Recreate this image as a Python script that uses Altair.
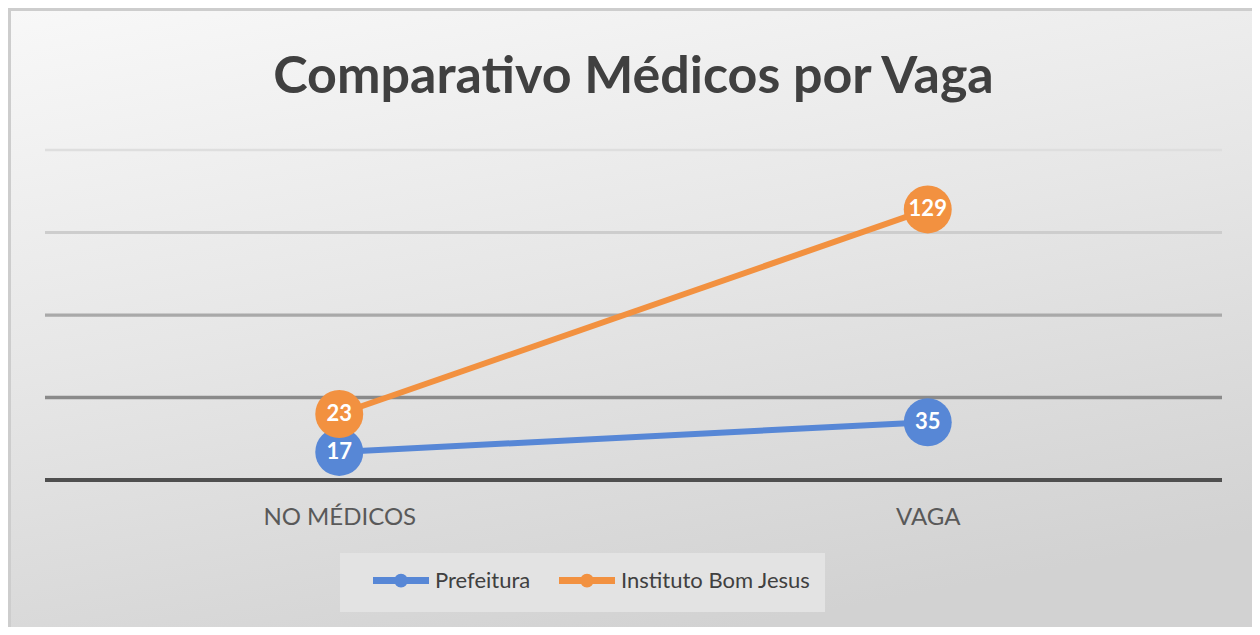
import altair as alt
import pandas as pd

# ---- data ----
categories = ["NO MÉDICOS", "VAGA"]
series = ["Prefeitura", "Instituto Bom Jesus"]
prefeitura = [17, 35]
instituto = [23, 129]
grid_levels = [0, 50, 100, 150, 200]

rows = []
for i, c in enumerate(categories):
    rows.append({"cat": c, "serie": series[0], "valor": prefeitura[i], "ordem": 0})
    rows.append({"cat": c, "serie": series[1], "valor": instituto[i], "ordem": 1})
df = pd.DataFrame(rows)
grid_df = pd.DataFrame({"level": grid_levels})
one_df = pd.DataFrame({"k": [0]})

W, H = 1177, 330
PAD = {"left": 37, "top": 142, "right": 30, "bottom": 147}
colors = ["#5787d6", "#f29140"]
y_scale = alt.Scale(domain=[0, 200], nice=False, zero=True)

x_enc = alt.X(
    "cat:N",
    sort=categories,
    scale=alt.Scale(type="point", padding=0.5),
    axis=alt.Axis(
        title=None, domain=False, ticks=False, grid=False, labelAngle=0, zindex=1,
        labelFont="Lato", labelFontSize=24, labelColor="#595959", labelPadding=25,
    ),
)

bg = alt.Chart(one_df).mark_rect(
    fill=alt.LinearGradient(
        gradient="linear",
        stops=[alt.GradientStop(color="#f8f8f8", offset=0),
               alt.GradientStop(color="#e6e6e6", offset=0.5),
               alt.GradientStop(color="#d2d2d2", offset=1)],
        x1=0, y1=0, x2=0.35, y2=1,
    ),
    stroke="#cdcdcd", strokeWidth=3,
).encode(
    x=alt.value(-35.5), x2=alt.value(W + 60),
    y=alt.value(-140.5), y2=alt.value(H + 200),
)

grid = alt.Chart(grid_df).mark_rule().encode(
    y=alt.Y("level:Q", scale=y_scale, axis=None),
    stroke=alt.Stroke("level:O", scale=alt.Scale(domain=grid_levels,
                      range=["#4f4f4f", "#8a8a8a", "#a9a9a9", "#cdcdcd", "#dedede"]), legend=None),
    strokeWidth=alt.StrokeWidth("level:O", scale=alt.Scale(domain=grid_levels,
                      range=[4, 2.5, 2.5, 2.5, 2.5]), legend=None),
)

base = alt.Chart(df).transform_stack(
    stack="valor", groupby=["cat"], as_=["y0", "y1"],
    sort=[alt.SortField("ordem", order="ascending")],
)

color_scale = alt.Scale(domain=series, range=colors)

legend_path = "M-2.8,0H2.8M-0.34,0A0.34,0.34,0,1,1,0.34,0A0.34,0.34,0,1,1,-0.34,0"

lines = base.mark_line(strokeWidth=6).encode(
    x=x_enc,
    y=alt.Y("y1:Q", scale=y_scale, axis=None),
    color=alt.Color("serie:N", scale=color_scale, sort=series, legend=alt.Legend(
        title=None, orient="none", legendX=295, legendY=403, direction="horizontal",
        fillColor="#e3e3e3", padding=14, symbolType=legend_path, symbolSize=400,
        symbolStrokeWidth=7, symbolOffset=33.5, labelFont="Lato", labelFontSize=22,
        labelColor="#404040", labelOffset=20.5, columnPadding=9, labelLimit=500,
    )),
    detail="serie:N",
)

points = base.mark_circle(size=2300, opacity=1).encode(
    x=x_enc,
    y=alt.Y("y1:Q", scale=y_scale, axis=None),
    color=alt.Color("serie:N", scale=color_scale, sort=series, legend=None),
)

labels = base.mark_text(color="white", font="Lato", fontWeight="bold", fontSize=22,
                        baseline="middle", align="center").encode(
    x=x_enc,
    y=alt.Y("y1:Q", scale=y_scale, axis=None),
    text="valor:Q",
)

chart = alt.layer(bg, grid, lines, points, labels).properties(
    width=W, height=H,
    title=alt.TitleParams(
        "Comparativo Médicos por Vaga", font="Lato", fontSize=52, fontWeight="bold",
        color="#404040", anchor="middle", frame="group", baseline="alphabetic", offset=-137,
    ),
    autosize=alt.AutoSizeParams(type="none"),
    padding=PAD,
).configure_view(stroke=None).configure(background="white")

chart.save("out.html", embed_options={"renderer": "svg", "actions": False})
